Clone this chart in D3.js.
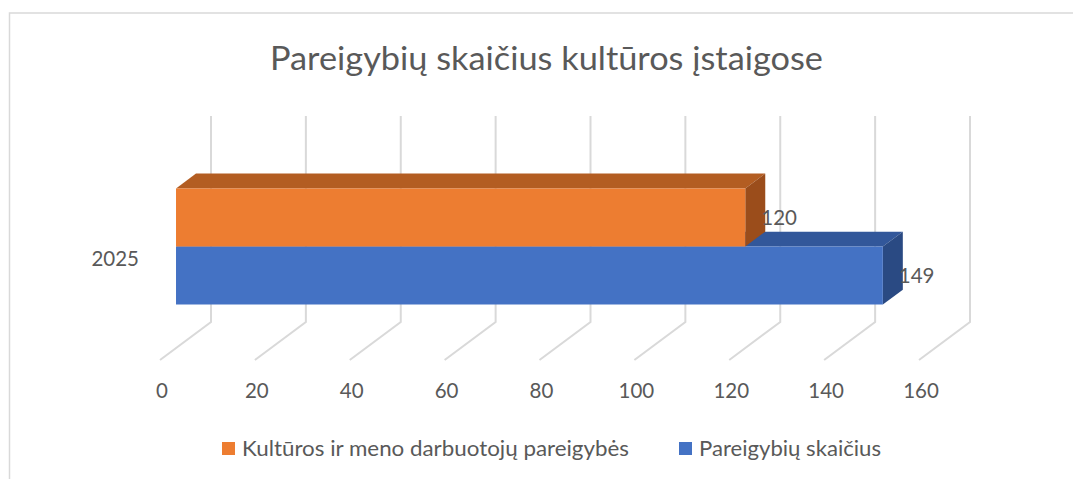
<!DOCTYPE html>
<html>
<head>
<meta charset="utf-8">
<script src="https://cdn.jsdelivr.net/npm/d3@7"></script>
<style>
  body { margin: 0; background: #fff; }
  text { font-family: Lato, "Open Sans", sans-serif; fill: #595959; }
</style>
</head>
<body>
<figure id="chart" style="margin:0"></figure>
<script>
// data
const categories = ["2025"];
const seriesNames = ["Kultūros ir meno darbuotojų pareigybės", "Pareigybių skaičius"];
const seriesValues = [120, 149];
const seriesColors = ["#ED7D31", "#4472C4"];
const topColors = ["#B35D22", "#32579A"];
const sideColors = ["#9B4D1B", "#2A4A83"];
const tickValues = [0, 20, 40, 60, 80, 100, 120, 140, 160];

const width = 1073;
const height = 479;
const labelSize = 20.5;

// back wall + depth offset of the fake 3d box
const wallTop = 116;
const wallBottom = 322;
const depth = { dx: -51, dy: 38 };
const barZ = [0.294, 0.686];

const svg = d3.select("figure#chart")
  .append("svg")
  .attr("width", width)
  .attr("height", height);

// chart frame
svg.append("rect")
  .attr("x", 9.5).attr("y", 13)
  .attr("width", 1100).attr("height", 500)
  .attr("fill", "none")
  .attr("stroke", "#D9D9D9")
  .attr("stroke-width", 1.5);

svg.append("text")
  .attr("x", 546.5).attr("y", 70)
  .attr("text-anchor", "middle")
  .attr("font-size", 33)
  .attr("textLength", 553)
  .attr("lengthAdjust", "spacingAndGlyphs")
  .text("Pareigybių skaičius kultūros įstaigose");

let x = d3.scaleLinear()
  .domain([0, 160])
  .range([211, 970]);

let y = d3.scaleBand()
  .domain(categories)
  .range([wallTop, 325])
  .paddingOuter(0.4);

let ySeries = d3.scaleBand()
  .domain(d3.range(seriesNames.length))
  .range([0, y.bandwidth()]);

// project a point on the back plane forward by z (0 = wall, 1 = front)
const P = (px, py, z) => [px + z * depth.dx, py + z * depth.dy];

// gridlines: wall verticals and floor diagonals
const grid = svg.append("g")
  .attr("stroke", "#D9D9D9")
  .attr("stroke-width", 2)
  .attr("fill", "none");

grid.selectAll("path")
  .data(tickValues)
  .join("path")
  .attr("d", d => d3.line()([
    P(x(d), wallTop, 0),
    P(x(d), wallBottom, 0),
    P(x(d), wallBottom, 1)
  ]));

// tick labels along the front floor edge
svg.append("g")
  .selectAll("text")
  .data(tickValues)
  .join("text")
  .attr("x", d => P(x(d), wallBottom, 1)[0] + 2)
  .attr("y", 398)
  .attr("text-anchor", "middle")
  .attr("font-size", labelSize)
  .text(d => d);

// category label
svg.append("g")
  .selectAll("text")
  .data(categories)
  .join("text")
  .attr("x", P(x(0), 0, 1)[0] - 21)
  .attr("y", d => P(0, y(d) + y.bandwidth() / 2, 1)[1])
  .attr("dy", "0.35em")
  .attr("text-anchor", "end")
  .attr("font-size", labelSize)
  .text(d => d);

// bars, lower series first so the upper one sits on top
const bars = seriesValues.map((v, i) => ({
  i: i,
  value: v,
  top: y(categories[0]) + ySeries(i),
  bottom: y(categories[0]) + ySeries(i) + ySeries.bandwidth()
})).reverse();

const gBars = svg.append("g");
const poly = pts => "M" + pts.map(p => p.join(",")).join("L") + "Z";

bars.forEach(b => {
  const x0 = x(0), x1 = x(b.value);
  const [zb, zf] = barZ;
  const g = gBars.append("g");

  g.append("path")
    .attr("fill", topColors[b.i])
    .attr("d", poly([P(x0, b.top, zf), P(x0, b.top, zb), P(x1, b.top, zb), P(x1, b.top, zf)]));

  g.append("path")
    .attr("fill", sideColors[b.i])
    .attr("d", poly([P(x1, b.top, zf), P(x1, b.top, zb), P(x1, b.bottom, zb), P(x1, b.bottom, zf)]));

  g.append("path")
    .attr("fill", seriesColors[b.i])
    .attr("d", poly([P(x0, b.top, zf), P(x1, b.top, zf), P(x1, b.bottom, zf), P(x0, b.bottom, zf)]));

  // data label
  g.append("text")
    .attr("x", P(x1, 0, zf)[0] + 16)
    .attr("y", P(0, (b.top + b.bottom) / 2, zf)[1])
    .attr("dy", "0.35em")
    .attr("font-size", labelSize)
    .text(b.value);
});

// legend
const legendPos = [{ x: 222, w: 387 }, { x: 679, w: 182 }];
const legend = svg.append("g")
  .selectAll("g")
  .data(seriesNames)
  .join("g")
  .attr("transform", (d, i) => `translate(${legendPos[i].x},442)`);

legend.append("rect")
  .attr("width", 13)
  .attr("height", 13)
  .attr("fill", (d, i) => seriesColors[i]);

legend.append("text")
  .attr("x", 20)
  .attr("y", 13.5)
  .attr("font-size", labelSize)
  .attr("textLength", (d, i) => legendPos[i].w)
  .attr("lengthAdjust", "spacingAndGlyphs")
  .text(d => d);
</script>
</body>
</html>
